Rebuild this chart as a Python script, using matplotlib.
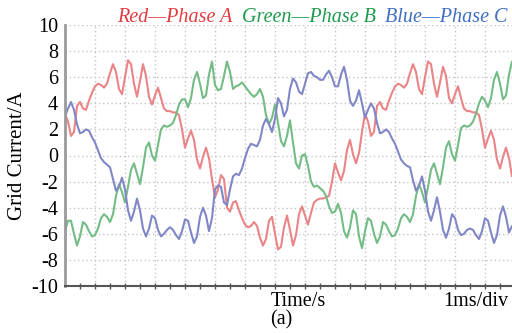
import numpy as np
import matplotlib.pyplot as plt

plt.rcParams['font.family'] = 'Liberation Serif'
plt.rcParams['axes.unicode_minus'] = False

# time axis in ms, sampled every 0.1 ms (scope set to 1 ms/div)
time_ms = np.arange(150) * 0.1

# grid currents (A) for the three phases
phase_a = [
    3.2, 2.6, 1.5, 1.8, 3.8, 4.1, 3.6, 3.5, 4.2, 4.8,
    5.3, 5.5, 5.4, 5.2, 5.5, 6.3, 7.0, 6.4, 5.1, 4.7,
    6.0, 7.3, 7.0, 5.5, 4.5, 5.7, 7.0, 6.1, 4.5, 3.9,
    4.6, 5.2, 4.4, 3.6, 3.4, 3.4, 3.3, 3.3, 3.1, 2.0,
    0.6, 1.3, 1.9, 1.2, -0.3, -1.0, -0.1, 0.6, -0.2,
    -1.8, -3.2, -2.6, -1.5, -1.8, -4.0, -4.3, -3.6, -3.5, -4.2,
    -4.8, -5.3, -5.5, -5.4, -5.1, -5.4, -6.3, -6.9, -6.4, -5.0,
    -4.7, -6.0, -7.2, -7.0, -5.5, -4.6, -5.7, -6.9, -6.1, -4.5,
    -3.9, -4.6, -5.3, -4.4, -3.6, -3.4, -3.3, -3.3, -3.2, -3.1,
    -2.0, -0.6, -1.3, -1.9, -1.2, 0.4, 1.2, 0.1, -0.6, 0.2,
    1.8, 3.2, 2.6, 1.5, 1.8, 3.8, 4.1, 3.6, 3.5, 4.2,
    4.8, 5.3, 5.5, 5.4, 5.2, 5.5, 6.3, 7.0, 6.4, 5.1,
    4.7, 6.0, 7.2, 7.0, 5.5, 4.5, 5.6, 6.8, 6.1, 4.4,
    4.0, 4.7, 5.3, 4.4, 3.6, 3.4, 3.4, 3.3, 3.3, 3.1,
    2.0, 0.6, 1.3, 1.9, 1.2, -0.3, -1.0, -0.1, 0.6, -0.2,
    -1.6,
]

phase_b = [
    -5.8, -5.0, -5.0, -6.0, -6.9, -6.2, -5.1, -5.3, -5.8, -6.2,
    -6.1, -5.6, -4.8, -4.5, -4.7, -5.1, -4.5, -3.1, -2.2, -2.8,
    -3.6, -2.4, -1.1, -0.6, -1.4, -2.2, -0.9, 0.6, 1.0, 0.0,
    -0.4, 0.8, 2.0, 2.3, 2.2, 2.3, 2.5, 3.1, 3.9, 4.3,
    4.3, 3.7, 4.4, 5.8, 6.4, 5.5, 4.4, 4.6, 6.2, 7.2,
    5.4, 5.0, 5.1, 6.1, 7.2, 6.4, 5.1, 5.3, 5.4, 5.6,
    5.3, 5.0, 4.7, 4.5, 4.7, 5.1, 4.5, 3.1, 2.4, 2.9,
    3.9, 2.5, 1.1, 0.7, 1.5, 2.7, 1.0, -0.6, -1.0, 0.0,
    0.1, -0.8, -2.0, -2.4, -2.3, -2.5, -2.7, -3.1, -3.9, -4.4,
    -4.3, -3.7, -4.4, -5.8, -6.3, -5.5, -4.2, -4.5, -6.2, -7.1,
    -5.8, -4.8, -5.0, -6.0, -6.7, -6.2, -5.1, -5.3, -5.8, -6.2,
    -6.1, -5.6, -4.8, -4.5, -4.7, -5.1, -4.5, -3.1, -2.2, -2.8,
    -3.6, -2.4, -1.1, -0.6, -1.4, -2.2, -0.9, 0.6, 1.1, 0.1,
    -0.4, 0.8, 2.1, 2.3, 2.2, 2.3, 2.6, 3.2, 4.0, 4.5,
    4.2, 3.7, 4.4, 5.8, 6.4, 5.5, 4.3, 4.6, 6.2, 7.2,
]

phase_c = [
    3.0, 3.6, 4.1, 3.5, 2.4, 1.7, 1.8, 2.0, 1.9, 1.4,
    1.0, 0.4, -0.2, -0.5, -0.7, -0.9, -1.8, -2.7, -2.4, -1.7,
    -2.6, -4.2, -5.0, -4.3, -3.3, -4.2, -5.6, -6.2, -5.6, -4.6,
    -4.8, -5.7, -6.2, -6.0, -5.7, -5.5, -5.7, -6.1, -6.4, -5.8,
    -4.9, -5.0, -5.9, -6.7, -6.2, -4.7, -4.0, -4.6, -5.8, -4.8,
    -2.6, -2.3, -2.4, -3.6, -3.8, -2.6, -1.6, -1.4, -1.5, -1.0,
    -0.2, 0.5, 0.9, 0.8, 0.7, 1.2, 2.3, 2.8, 2.4, 1.8,
    2.8, 4.4, 4.0, 3.0, 3.5, 5.1, 5.9, 5.6, 4.9, 4.7,
    5.5, 6.3, 6.4, 6.1, 6.0, 5.8, 5.8, 6.2, 6.5, 6.0,
    5.3, 5.3, 6.2, 6.8, 5.8, 4.2, 3.8, 4.2, 5.0, 4.0,
    2.9, 3.5, 4.0, 3.6, 2.5, 1.7, 1.8, 2.0, 1.8, 1.3,
    0.9, 0.3, -0.3, -0.6, -0.8, -0.9, -1.9, -2.7, -2.3, -1.6,
    -2.7, -4.3, -5.0, -4.2, -3.2, -4.3, -5.7, -6.3, -5.6, -4.5,
    -4.8, -5.7, -6.1, -6.0, -5.7, -5.6, -5.7, -6.1, -6.4, -5.8,
    -4.8, -5.0, -5.9, -6.7, -6.1, -4.6, -3.9, -4.7, -5.9, -5.4,
]

fig = plt.figure(figsize=(5.12, 3.33), dpi=100)
ax = fig.add_axes([65 / 512, 47 / 333, 447 / 512, 261 / 333])

line_kw = dict(lw=1.5, solid_joinstyle='round', solid_capstyle='round')
ax.plot(time_ms, phase_a, color='#ea8486', **line_kw)
ax.plot(time_ms, phase_b, color='#74bc85', **line_kw)
ax.plot(time_ms, phase_c, color='#8187c6', **line_kw)

ax.set_xlim(0, 14.9)
ax.set_ylim(-10, 10)
ax.set_yticks(range(-10, 11, 2))
ax.set_xticks(np.arange(1, 15, 1))
ax.set_xticks(np.arange(0.5, 15, 1), minor=True)
ax.set_xticklabels([])
ax.grid(True, which='major', color='#c4c4c4', lw=1, ls=(0, (1, 2)))

ax.tick_params(axis='y', length=0, pad=5, labelsize=14.5)
ax.tick_params(axis='x', which='both', direction='inout', length=4,
               width=1, color='#555555')

for side in ['top', 'right']:
    ax.spines[side].set_visible(False)
ax.spines['left'].set_color('#9a9a9a')
ax.spines['left'].set_linewidth(2)
ax.spines['bottom'].set_color('#555555')
ax.spines['bottom'].set_linewidth(1.5)

ax.set_ylabel('Grid Current/A', fontsize=15, labelpad=3)

# colour key along the top
fig.text(117 / 512, 1 - 17 / 333, 'Red—Phase A', color='#e23c40',
         fontsize=14.5, style='italic', va='center')
fig.text(242 / 512, 1 - 17 / 333, 'Green—Phase B', color='#1f9a4e',
         fontsize=14.5, style='italic', va='center')
fig.text(385 / 512, 1 - 17 / 333, 'Blue—Phase C', color='#3f6ec4',
         fontsize=14.5, style='italic', va='center')

fig.text(298 / 512, 1 - 301 / 333, 'Time/s', fontsize=14.5,
         ha='center', va='center')
fig.text(476 / 512, 1 - 301 / 333, '1ms/div', fontsize=14.5,
         ha='center', va='center')
fig.text(281 / 512, 1 - 320 / 333, '(a)', fontsize=14.5,
         ha='center', va='center')

fig.savefig('out.png', dpi=100)
